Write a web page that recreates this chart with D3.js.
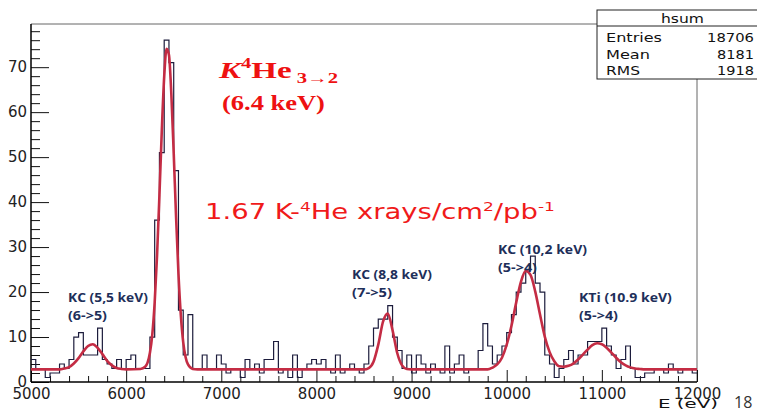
<!DOCTYPE html>
<html>
<head>
<meta charset="utf-8">
<title>hsum</title>
<script src="https://d3js.org/d3.v7.min.js"></script>
<style>
  body { margin: 0; background: #fff; }
  svg { display: block; }
  .tick text { font-family: "DejaVu Sans", sans-serif; font-size: 15px; fill: #222; }
  .tick line { stroke: #111; }
  .big { font-family: "Liberation Serif", "DejaVu Serif", serif; font-weight: bold; fill: #ee1111; }
  .rate { font-family: "DejaVu Sans", sans-serif; fill: #f01a1a; }
  .lab { font-family: "Open Sans", "Liberation Sans", sans-serif; font-weight: bold; font-size: 13px; fill: #1e2f5a; }
  .stat { font-family: "DejaVu Sans", sans-serif; font-size: 13px; fill: #111; }
</style>
</head>
<body>
<script>

// ---- data: histogram hsum, 50 eV bins from 5000 eV ----
var binLow = 5000;
var binWidth = 50;
var counts = [
   5,  3,  3,  1,  2,  2,  4,  3,  5, 10,
  11,  6,  6,  6, 12,  5,  4,  3,  5,  3,
   5,  6,  3,  3,  3, 10, 36, 51, 76, 71,
  47, 16,  6, 15,  3,  3,  6,  3,  3,  6,
   4,  2,  3,  3,  1,  5,  3,  4,  2,  5,
   5,  9,  2,  3,  1,  6,  1,  3,  4,  5,
   4,  5,  3,  2,  6,  2,  3,  4,  3,  2,
   4,  8, 12, 14, 14, 17, 10,  7,  3,  6,
   2,  6,  4,  2,  4,  3,  2,  8,  2,  4,
   6,  2,  3,  3,  7, 13,  8,  4,  6,  8,
  11, 15, 20, 22, 25, 28, 22, 20,  6,  4,
   1,  3,  5,  7,  4,  6,  6,  9,  9,  9,
  12,  8,  6,  3,  5,  8,  3,  1,  1,  2,
   2,  3,  3,  2,  4,  3,  2,  3,  3,  2
];

// fit curve (red)
var fitE = [5000, 5300, 5350, 5400, 5450, 5500, 5550, 5600, 5650, 5700, 5750, 5800, 5850, 5900, 5950, 6000,
            6150, 6200, 6225, 6250, 6275, 6300, 6325, 6350, 6375, 6400, 6425, 6450, 6475, 6500, 6525, 6550,
            6575, 6600, 6625, 6650, 6700, 6750,
            8500, 8550, 8600, 8650, 8700, 8750, 8800, 8850, 8900, 8950, 9000,
            9800, 9850, 9900, 9950, 10000, 10050, 10100, 10150, 10200, 10250, 10300, 10350, 10400, 10450,
            10500, 10550, 10600, 10650, 10700, 10750, 10800, 10850, 10900, 10950, 11000, 11050, 11100,
            11150, 11200, 11250, 11300, 11350, 11400, 11450, 12000];
var fitY = [2.8, 2.8, 3.0, 3.3, 4.1, 5.3, 6.8, 8.0, 8.4, 7.6, 6.2, 4.7, 3.7, 3.1, 2.9, 2.8,
            2.9, 3.4, 4.3, 6.5, 10.6, 17.7, 28.2, 41.6, 56.0, 67.9, 74.1, 72.7, 64.0, 50.9, 36.6, 24.0,
            14.8, 8.8, 5.5, 3.9, 2.9, 2.8,
            2.8, 3.1, 4.5, 8.3, 13.4, 15.2, 11.5, 6.4, 3.7, 2.9, 2.8,
            2.8, 3.2, 3.9, 5.4, 8.3, 12.5, 17.7, 22.3, 24.7, 23.8, 20.1, 15.0, 10.1, 6.7,
            4.6, 3.5, 3.4, 3.6, 4.1, 5.0, 6.1, 7.2, 8.2, 8.6, 8.4, 7.6, 6.55,
            5.4, 4.4, 3.7, 3.25, 3.0, 2.9, 2.8, 2.8];

var xTicks = [5000, 6000, 7000, 8000, 9000, 10000, 11000, 12000];
var yTicks = [0, 10, 20, 30, 40, 50, 60, 70];

var statNames = ["Entries", "Mean", "RMS"];
var statValues = ["18706", "8181", "1918"];

var lineTop = ["KC (5,5 keV)", "KC (8,8 keV)", "KC (10,2 keV)", "KTi (10.9 keV)"];
var lineBottom = ["(6->5)", "(7->5)", "(5->4)", "(5->4)"];

// ---- layout ----
var W = 757, H = 412;
var svg = d3.select("body").append("svg").attr("width", W).attr("height", H);

var xScale = d3.scaleLinear().domain([5000, 12000]).range([31, 697]);
var yScale = d3.scaleLinear().domain([0, 79.6]).range([382, 24]);

// frame (top and right, grey)
svg.append("path")
  .attr("d", "M31,24H697V382")
  .attr("fill", "none").attr("stroke", "#666").attr("stroke-width", 1);

// y axis, ticks pointing into the frame
var yMinor = d3.range(0, 79, 2).filter(function (v) { return v % 10 != 0; });
svg.append("g").attr("transform", "translate(31,0)")
  .call(d3.axisLeft(yScale).tickValues(yMinor).tickSizeInner(-9).tickSizeOuter(0).tickFormat(""))
  .call(function (g) { g.select(".domain").remove(); });
svg.append("g").attr("transform", "translate(31,0)")
  .call(d3.axisLeft(yScale).tickValues(yTicks).tickSizeInner(-18).tickSizeOuter(0).tickPadding(4))
  .call(function (g) { g.select(".domain").remove(); });

// x axis
var xMinor = d3.range(5000, 12001, 200).filter(function (v) { return v % 1000 != 0; });
svg.append("g").attr("transform", "translate(0,382)")
  .call(d3.axisBottom(xScale).tickValues(xMinor).tickSizeInner(-6).tickSizeOuter(0).tickFormat(""))
  .call(function (g) { g.select(".domain").remove(); });
svg.append("g").attr("transform", "translate(0,382)")
  .call(d3.axisBottom(xScale).tickValues(xTicks).tickSizeInner(-12).tickSizeOuter(0).tickPadding(6).tickFormat(d3.format("d")))
  .call(function (g) { g.select(".domain").remove(); });

// axis lines
svg.append("line").attr("x1", 31).attr("x2", 31).attr("y1", 24).attr("y2", 382)
  .attr("stroke", "#000").attr("stroke-width", 1.5);
svg.append("line").attr("x1", 31).attr("x2", 697).attr("y1", 382).attr("y2", 382)
  .attr("stroke", "#000").attr("stroke-width", 1.5);

// histogram outline
var steps = counts.map(function (c, i) { return [binLow + i * binWidth, c]; });
steps.push([binLow + counts.length * binWidth, counts[counts.length - 1]]);
var stepLine = d3.line()
  .x(function (d) { return xScale(d[0]); })
  .y(function (d) { return yScale(d[1]); })
  .curve(d3.curveStepAfter);
svg.append("path").datum(steps)
  .attr("d", stepLine)
  .attr("fill", "none").attr("stroke", "#1c1c3c").attr("stroke-width", 1.2);

// fit
var fitLine = d3.line()
  .x(function (d, i) { return xScale(fitE[i]); })
  .y(function (d) { return yScale(d); })
  .curve(d3.curveMonotoneX);
svg.append("path").datum(fitY)
  .attr("d", fitLine)
  .attr("fill", "none").attr("stroke", "#c42c44").attr("stroke-width", 2.6)
  .attr("stroke-linejoin", "round");

// text squeezed/stretched to the width it has on the slide
function wideText(x, y, w, cls, parts, size) {
  var g = svg.append("g");
  var t = g.append("text").attr("class", cls);
  if (size) t.style("font-size", size + "px");
  parts.forEach(function (p) {
    var s = t.append("tspan").text(p.t);
    if (p.size) s.style("font-size", p.size + "px");
    if (p.dy) s.attr("dy", p.dy);
    if (p.italic) s.style("font-style", "italic");
  });
  var len = t.node().getComputedTextLength();
  g.attr("transform", "translate(" + x + "," + y + ") scale(" + (w / len) + ",1)");
  return g;
}

// stats box
svg.append("rect").attr("x", 597).attr("y", 10).attr("width", 200).attr("height", 69)
  .attr("fill", "#fff").attr("stroke", "#222").attr("stroke-width", 1);
svg.append("line").attr("x1", 597).attr("x2", 757).attr("y1", 26).attr("y2", 26)
  .attr("stroke", "#222");
wideText(661, 23, 43, "stat", [{ t: "hsum" }]);
var statW = [56, 44, 34];
var valW = [47, 37, 37];
var statY = [42, 59, 75];
statNames.forEach(function (n, i) {
  wideText(606, statY[i], statW[i], "stat", [{ t: n }]);
  wideText(754 - valW[i], statY[i], valW[i], "stat", [{ t: statValues[i] }]);
});

// axis title and page number
wideText(658, 408, 60, "stat", [{ t: "E (eV)" }], 12.5);
svg.append("text").attr("x", 734).attr("y", 408).text("18")
  .style("font-family", "Open Sans, sans-serif").style("font-size", "16px").style("fill", "#333");

// red annotations
wideText(219, 78, 119, "big", [
  { t: "K", italic: true, size: 24 },
  { t: "4", size: 15, dy: -10 },
  { t: "He", size: 24, dy: 10 },
  { t: " 3\u21922", size: 15, dy: 5 }
]);
wideText(222, 110, 103, "big", [{ t: "(6.4 keV)" }], 22);
wideText(205, 219, 350, "rate", [
  { t: "1.67 K-" },
  { t: "4", size: 13, dy: -8 },
  { t: "He xrays/cm", dy: 8 },
  { t: "2", size: 13, dy: -8 },
  { t: "/pb", dy: 8 },
  { t: "-1", size: 13, dy: -8 }
], 21);

// peak labels
var labX = [68, 352, 498, 579];
var labY = [302, 279, 254, 302];
var labW1 = [80, 80, 89, 93];
var labW2 = [39, 40, 39, 39];
lineTop.forEach(function (s, i) {
  wideText(labX[i], labY[i], labW1[i], "lab", [{ t: s }]);
  wideText(labX[i], labY[i] + 18, labW2[i], "lab", [{ t: lineBottom[i] }]);
});

</script>
</body>
</html>
